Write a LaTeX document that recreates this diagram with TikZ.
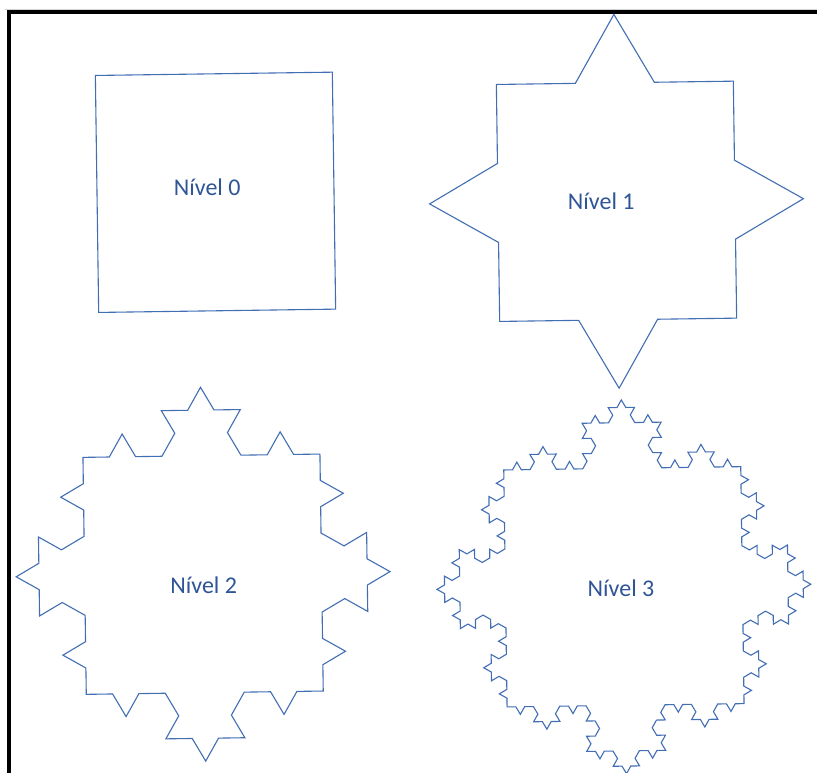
\documentclass[tikz,border=0pt]{standalone}
\usepackage{fontspec}
\setmainfont{Carlito}
\definecolor{kochline}{RGB}{66,110,180}
\definecolor{kochtext}{RGB}{47,85,151}
\newcommand\kochseg[5]{%
  \begingroup
  \ifnum#1=0
    \xdef\kochpath{\kochpath -- (#4,#5)}%
  \else
    \pgfmathsetmacro\kdx{(#4-#2)/3}%
    \pgfmathsetmacro\kdy{(#5-#3)/3}%
    \pgfmathsetmacro\kax{#2+\kdx}\pgfmathsetmacro\kay{#3+\kdy}%
    \pgfmathsetmacro\kbx{#2+2*\kdx}\pgfmathsetmacro\kby{#3+2*\kdy}%
    \pgfmathsetmacro\ktx{\kax+0.5*\kdx+0.8660254*\kdy}%
    \pgfmathsetmacro\kty{\kay-0.8660254*\kdx+0.5*\kdy}%
    \edef\knext{%
      \noexpand\kochseg{\the\numexpr#1-1\relax}{#2}{#3}{\kax}{\kay}%
      \noexpand\kochseg{\the\numexpr#1-1\relax}{\kax}{\kay}{\ktx}{\kty}%
      \noexpand\kochseg{\the\numexpr#1-1\relax}{\ktx}{\kty}{\kbx}{\kby}%
      \noexpand\kochseg{\the\numexpr#1-1\relax}{\kbx}{\kby}{#4}{#5}}%
    \knext
  \fi
  \endgroup}
\newcommand\kochshape[1]{%
  \gdef\kochpath{(-118.5,-118.5)}%
  \kochseg{#1}{-118.5}{-118.5}{118.5}{-118.5}%
  \kochseg{#1}{118.5}{-118.5}{118.5}{118.5}%
  \kochseg{#1}{118.5}{118.5}{-118.5}{118.5}%
  \kochseg{#1}{-118.5}{118.5}{-118.5}{-118.5}%
}
\begin{document}
\begin{tikzpicture}[x=1pt,y=1pt,
  koch/.style={draw=kochline,line width=1.1pt},
  lbl/.style={text=kochtext,font=\fontsize{24}{28}\selectfont,anchor=base,inner sep=0pt}]
\useasboundingbox (0,0) rectangle (817,-773);
\fill[white] (0,0) rectangle (817,-773);
% frame
\draw[gray!35,line width=0.8pt] (5,-9) -- (817,-9);
\draw[line width=3.8pt] (9.3,-773) -- (9.3,-12) -- (817,-12);
% level 0
\begin{scope}[shift={(215.5,-192.3)},rotate=0.8]
\kochshape{0}
\draw[koch] \kochpath -- cycle;
\end{scope}
% level 1
\begin{scope}[shift={(616.5,-201.3)},rotate=0.8]
\kochshape{1}
\draw[koch] \kochpath -- cycle;
\end{scope}
% level 2
\begin{scope}[shift={(203.1,-574.2)},rotate=0.8]
\kochshape{2}
\draw[koch] \kochpath -- cycle;
\end{scope}
% level 3
\begin{scope}[shift={(623.9,-586.8)},rotate=0.8]
\kochshape{3}
\draw[koch] \kochpath -- cycle;
\end{scope}
\node[lbl] (n0) at (207.2,-196) {Nível 0};
\node[lbl] (n1) at (601.3,-209) {Nível 1};
\node[lbl] (n2) at (203.7,-593.3) {Nível 2};
\node[lbl] (n3) at (621,-596) {Nível 3};
\end{tikzpicture}
\end{document}
